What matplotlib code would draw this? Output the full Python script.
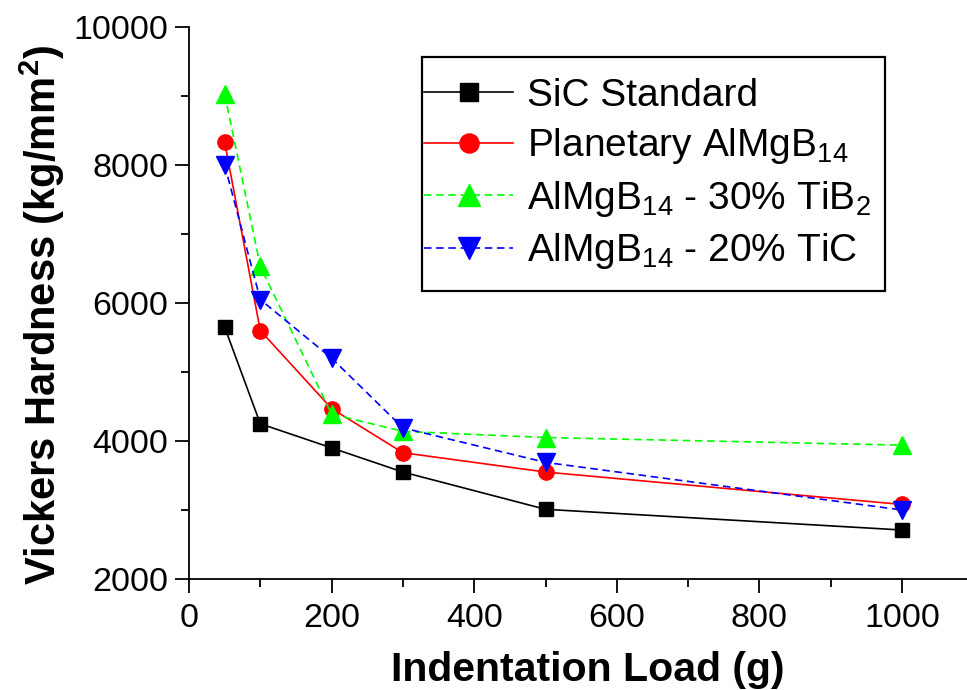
import matplotlib
matplotlib.use("Agg")
import matplotlib.pyplot as plt
from matplotlib.patches import Rectangle

plt.rcParams['font.family'] = ['Liberation Sans', 'DejaVu Sans']
plt.rcParams['mathtext.fontset'] = 'custom'
plt.rcParams['mathtext.rm'] = 'Liberation Sans'
plt.rcParams['mathtext.it'] = 'Liberation Sans'
plt.rcParams['mathtext.bf'] = 'Liberation Sans:bold'

loads = [50, 100, 200, 300, 500, 1000]
sic = [5650, 4250, 3900, 3550, 3010, 2710]
planetary = [8330, 5600, 4470, 3830, 3550, 3080]
tib2 = [9030, 6530, 4390, 4140, 4050, 3940]
tic = [8000, 6050, 5200, 4190, 3690, 3000]

labels = ['SiC Standard', r'Planetary AlMgB$_{14}$',
          r'AlMgB$_{14}$ - 30% TiB$_2$', r'AlMgB$_{14}$ - 20% TiC']

W, H = 967, 690
fig = plt.figure(figsize=(W / 100, H / 100), dpi=100)
ax = fig.add_axes([189 / W, 1 - 579 / H, (W - 189) / W, (579 - 27) / H])

dash = (0, (4.5, 2.8))
ax.plot(loads, sic, color='black', lw=1.2, marker='s', ms=10, label=labels[0])
ax.plot(loads, planetary, color='red', lw=1.2, marker='o', ms=11, label=labels[1])
ax.plot(loads, tib2, color='#00ff00', lw=1.2, ls=dash, marker='^', ms=13, label=labels[2])
ax.plot(loads, tic, color='blue', lw=1.2, ls=dash, marker='v', ms=13, label=labels[3])

ax.set_xlim(0, 1091)
ax.set_ylim(2000, 10000)
ax.set_xticks([0, 200, 400, 600, 800, 1000])
ax.set_xticks(range(100, 1100, 200), minor=True)
ax.set_yticks([2000, 4000, 6000, 8000, 10000])
ax.set_yticks([3000, 5000, 7000, 9000], minor=True)
ax.spines['top'].set_visible(False)
ax.spines['right'].set_visible(False)
for s in ['left', 'bottom']:
    ax.spines[s].set_linewidth(1.3)
ax.tick_params(which='major', direction='out', length=10, width=1.3, labelsize=24.5)
ax.tick_params(axis='x', which='major', pad=7)
ax.tick_params(axis='y', which='major', pad=5)
ax.tick_params(which='minor', direction='out', length=6, width=1.3)

ax.set_xlabel('Indentation Load (g)', fontsize=29.5, fontweight='bold')
ax.xaxis.set_label_coords((588 - 189) / (W - 189), -(681 - 579) / (579 - 27), transform=ax.transAxes)
ax.xaxis.label.set_va('baseline')
ax.set_ylabel(r'Vickers Hardness (kg/mm$^\mathbf{2}$)', fontsize=30, fontweight='bold')
ax.yaxis.set_label_coords(-(189 - 18) / (W - 189), (579 - 315) / (579 - 27), transform=ax.transAxes)
ax.yaxis.label.set_va('top')

leg = fig.legend(loc='upper left', bbox_to_anchor=(424 / W, 1 - 78 / H), fontsize=28,
                 frameon=False, handlelength=2.3, borderpad=0, borderaxespad=0,
                 labelspacing=0.32, handletextpad=0.35, markerscale=1.25)
fig.add_artist(Rectangle((422 / W, 1 - 291 / H), (885 - 422) / W, (291 - 57) / H,
                         transform=fig.transFigure, fill=False, edgecolor='black',
                         linewidth=1.6, zorder=5))

fig.savefig('out.png', dpi=100)
